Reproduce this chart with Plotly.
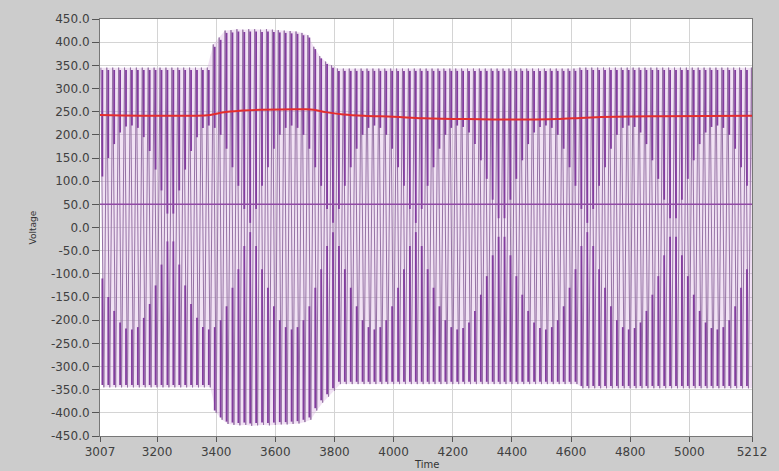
import plotly.graph_objects as go

# ---------------- data ----------------
t_start = 3007          # first time value (ms)
t_end = 5212            # last time value (ms)
cycle_ms = 20           # 50 Hz mains cycle

# positive peak of every cycle (V)
peaks = [345] * 19 + [395, 410, 425, 426, 428, 427, 428, 428, 427, 428, 427, 426, 425, 424,
                      423, 420, 415, 390, 370, 358, 350] + [343] * 41 + [345] * 30
# negative peak of every cycle (V)
troughs = [-345] * 19 + [-400, -415, -424, -426, -427, -426, -428, -427, -426, -427, -426,
                         -425, -425, -424, -423, -420, -415, -395, -378, -365, -352] + [-338] * 41 + [-347] * 30
# half height of the light "diamond" pattern inside the band (V)
diamond = [110, 150, 180, 205, 218, 220, 215, 195, 165, 125, 80, 30, 30, 80, 125, 165, 195, 215, 220,
           215, 200, 170, 130, 90, 40, 10, 40, 90, 130, 170, 200, 215, 220,
           215, 200, 170, 130, 90, 40, 10, 40, 90, 130, 170, 200, 215, 220,
           215, 200, 170, 130, 90, 40, 10, 40, 90, 130, 170, 200, 215, 220,
           217, 205, 180, 145, 105, 60, 20, 20, 60, 105, 145, 180, 205, 217, 220,
           215, 200, 170, 130, 90, 40, 10, 40, 90, 130, 170, 200, 215, 220,
           217, 205, 180, 145, 105, 60, 20, 20, 60, 105, 145, 180, 205, 217, 220,
           215, 200, 170, 130, 90, 40]

# RMS voltage (red line)
rms_t = [3007, 3380, 3420, 3480, 3550, 3700, 3730, 3770, 3830, 3900, 4000, 4100, 4250, 4450,
         4550, 4650, 4750, 4900, 5212]
rms_v = [243, 243, 248, 252, 254, 255, 254, 249, 244, 241, 239, 236, 234, 233, 234, 237, 239, 240, 241]

# frequency trace (purple flat line)
freq_t = [3007, 5212]
freq_v = [50, 50]

y_ticks = [450, 400, 350, 300, 250, 200, 150, 100, 50, 0, -50, -100, -150, -200, -250, -300,
           -350, -400, -450]
y_labels = ["450.0", "400.0", "350.0", "300.0", "250.0", "200.0", "150.0", "100.0", "50.0", "0.0",
            "-50.0", "-100.0", "-150.0", "-200.0", "-250.0", "-300.0", "-350.0", "-400.0", "-450.0"]
x_ticks = [3007, 3200, 3400, 3600, 3800, 4000, 4200, 4400, 4600, 4800, 5000, 5212]
x_labels = ["3007", "3200", "3400", "3600", "3800", "4000", "4200", "4400", "4600", "4800", "5000", "5212"]

# ---------------- build traces ----------------
n = len(peaks)
tp = [t_start + 3 + cycle_ms * k for k in range(n)]          # time of positive peak
tt = [t + cycle_ms / 2 for t in tp]                          # time of negative peak

wave_x, wave_y = [], []
for k in range(n):
    wave_x += [tp[k], tt[k]]
    wave_y += [peaks[k], troughs[k]]

dark_x, dark_y = [], []
for k in range(n):
    xm = tp[k] + cycle_ms / 4
    dark_x += [xm, xm, None, xm, xm, None]
    dark_y += [peaks[k] - 5, diamond[k], None, troughs[k] + 5, -diamond[k], None]

fig = go.Figure()
# light band
fig.add_trace(go.Scatter(x=tp, y=peaks, mode="lines", line=dict(width=0, color="rgba(0,0,0,0)"),
                         hoverinfo="skip", showlegend=False))
fig.add_trace(go.Scatter(x=tt, y=troughs, mode="lines", line=dict(width=0, color="rgba(0,0,0,0)"),
                         fill="tonexty", fillcolor="rgba(210,160,220,0.30)", hoverinfo="skip",
                         showlegend=False))
# thin full waveform
fig.add_trace(go.Scatter(x=wave_x, y=wave_y, mode="lines",
                         line=dict(width=1, color="rgb(150,115,165)", simplify=False),
                         showlegend=False))
# dark strokes
fig.add_trace(go.Scatter(x=dark_x, y=dark_y, mode="lines",
                         line=dict(width=1.8, color="rgb(130,60,158)", simplify=False),
                         showlegend=False))
# frequency line
fig.add_trace(go.Scatter(x=freq_t, y=freq_v, mode="lines",
                         line=dict(width=1.5, color="rgb(145,75,165)"), showlegend=False))
# RMS line
fig.add_trace(go.Scatter(x=rms_t, y=rms_v, mode="lines", line=dict(width=2, color="rgb(228,45,45)", shape="spline"),
                         showlegend=False))

font = dict(family="DejaVu Sans", size=12, color="#404040")
fig.update_layout(
    width=779, height=471,
    margin=dict(l=100, r=16, t=12, b=28),
    paper_bgcolor="#cccccc", plot_bgcolor="white",
    showlegend=False, font=font,
    xaxis=dict(range=[t_start, t_end], tickvals=x_ticks, ticktext=x_labels, ticks="outside",
               ticklen=5, tickcolor="#555", showgrid=True, gridcolor="#d4d4d4", gridwidth=1,
               showline=True, linecolor="#777", mirror=True, zeroline=False, tickfont=font),
    yaxis=dict(range=[-450, 450], tickvals=y_ticks, ticktext=y_labels, ticks="outside",
               ticklen=7, tickcolor="#555", showgrid=True, gridcolor="#d4d4d4", gridwidth=1,
               showline=True, linecolor="#777", mirror=True, zeroline=False, tickfont=font),
    annotations=[
        dict(text="Voltage", xref="paper", yref="paper", x=-0.115, y=0.5, textangle=-90,
             showarrow=False, font=dict(family="DejaVu Sans", size=9, color="#333")),
        dict(text="Time", xref="paper", yref="paper", x=0.5, y=-0.068, yanchor="middle",
             showarrow=False, font=dict(family="DejaVu Sans", size=10, color="#333")),
    ],
)

fig.write_html("out.html")
